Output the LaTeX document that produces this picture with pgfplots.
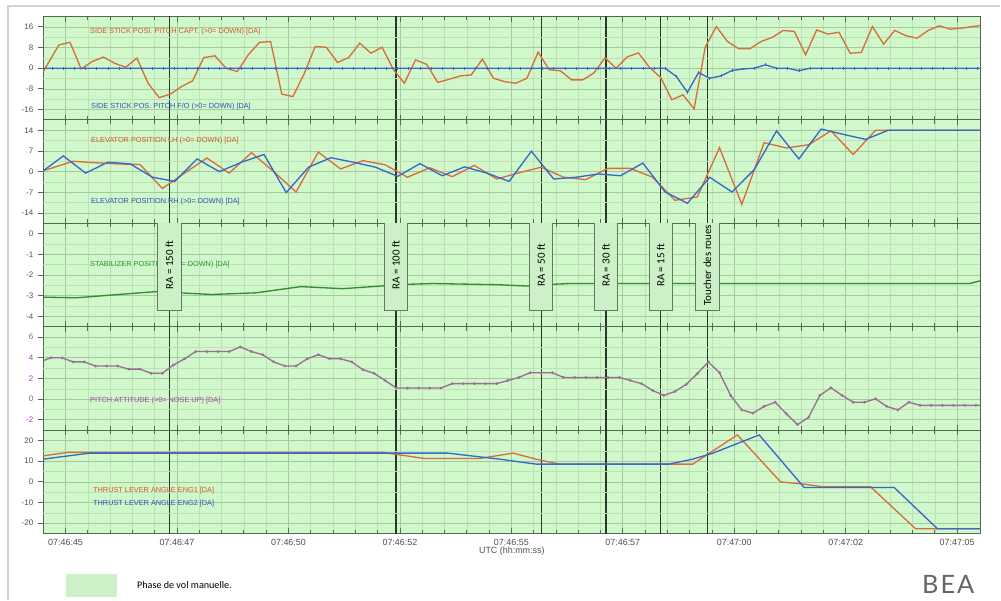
\documentclass[border=0pt]{standalone}
\usepackage{pgfplots}
\pgfplotsset{compat=1.18}
\usepackage{fontspec}
\setmainfont{Liberation Sans}
\newfontfamily\myr{Carlito}
\newfontfamily\beafont[LetterSpace=8]{Lato}

\definecolor{bgg}{RGB}{208,248,202}
\definecolor{gmaj}{RGB}{165,200,160}
\definecolor{gmin}{RGB}{188,225,183}
\definecolor{axc}{RGB}{85,105,85}
\definecolor{evc}{RGB}{45,55,45}
\definecolor{orl}{RGB}{215,110,60}
\definecolor{bll}{RGB}{55,105,200}
\definecolor{grl}{RGB}{50,140,50}
\definecolor{pul}{RGB}{155,110,150}
\definecolor{put}{RGB}{175,60,175}
\definecolor{ort}{RGB}{215,85,40}
\definecolor{blt}{RGB}{50,80,190}
\definecolor{grt}{RGB}{50,150,50}
\definecolor{tickc}{RGB}{80,80,80}
\definecolor{boxc}{RGB}{205,240,200}
\definecolor{boxd}{RGB}{100,120,100}

\tikzset{lab/.style={anchor=west, font=\fontsize{5.5}{6}\selectfont, inner sep=0pt}}

\pgfplotsset{
  panel/.style={
    scale only axis, width=703.3pt, height=77.625pt,
    anchor=north west,
    xmin=-0.5, xmax=20.52,
    axis background/.style={fill=bgg},
    xtick={0,2.5,...,20}, minor x tick num=4, xticklabels={},
    xtick align=inside, xtick pos=both,
    ytick align=outside, ytick pos=left,
    major tick length=4pt, minor tick length=3pt,
    grid=both,
    major grid style={draw=gmaj, line width=0.5pt},
    minor grid style={draw=gmin, line width=0.4pt},
    axis line style={draw=axc, line width=0.8pt},
    tick style={draw=axc, line width=0.6pt},
    yticklabel style={font=\fontsize{6}{7}\selectfont, text=tickc},
    /pgf/number format/assume math mode=true,
    extra x ticks={2.33,7.41,10.67,12.12,13.35,14.40},
    extra x tick labels={},
    extra x tick style={grid=major, major grid style={draw=evc, line width=1pt}, tick style={draw=none}},
    extra y tick labels={},
    extra y tick style={grid=major, major grid style={draw=gmin, line width=0.4pt}, tick style={draw=none}},
  },
}

\begin{document}
\begin{tikzpicture}
\path[fill=white] (0,0) rectangle (750.75pt,-450pt);
\draw[gray!35, line width=1.2pt] (6pt,-450pt) -- (6pt,-4.3pt) -- (750.75pt,-4.3pt);

% panel 1 : side sticks
\begin{axis}[panel, at={(32.5pt,-12.375pt)},
  ymin=-20, ymax=20, ytick={-16,-8,0,8,16}, extra y ticks={-12,-4,4,12}]
\addplot[orl, line width=1pt] coordinates {
(-0.5,-1.3) (-0.15,9) (0.1,10) (0.35,-0.3) (0.6,2.6) (0.85,4.3) (1.1,1.9) (1.35,0.4)
(1.6,3.9) (1.85,-5.8) (2.1,-11.4) (2.35,-10) (2.6,-7.1) (2.85,-4.9) (3.1,4.1) (3.35,4.8)
(3.6,0) (3.85,-1.3) (4.1,5.2) (4.35,10) (4.6,10.3) (4.85,-10) (5.1,-11) (5.35,-2.2)
(5.6,8.4) (5.85,8.1) (6.1,2.2) (6.35,4.1) (6.6,9.7) (6.85,5.8) (7.1,8.1) (7.35,-0.4)
(7.6,-5.8) (7.85,3.2) (8.1,1.5) (8.35,-5.5) (8.6,-4.3) (8.85,-3) (9.1,-2.6) (9.35,3.5)
(9.6,-3.9) (9.85,-5.2) (10.1,-5.8) (10.35,-3.9) (10.6,6.2) (10.85,-0.6) (11.1,-1) (11.35,-4.5)
(11.6,-4.5) (11.85,-1.9) (12.1,4.0) (12.35,0) (12.6,4.4) (12.85,5.9) (13.1,0.3) (13.35,-3.6)
(13.6,-12.2) (13.85,-10.3) (14.1,-15.7) (14.35,8.2) (14.6,16.1) (14.85,10.3) (15.1,7.5) (15.35,7.5)
(15.6,10.3) (15.85,11.9) (16.1,14.6) (16.35,14.2) (16.6,5.2) (16.85,14.8) (17.1,13.2) (17.35,13.9)
(17.6,5.8) (17.85,6.1) (18.1,16.1) (18.35,9.3) (18.6,14.6) (18.85,12.6) (19.1,11.6) (19.35,14.6)
(19.6,16.4) (19.85,15.1) (20.1,15.5) (20.35,16.1) (20.52,16.5)};
\addplot[bll, line width=1pt, mark=|, mark size=1.1pt, mark options={line width=0.5pt}] coordinates {
(-0.55,0) (-0.3,0) (-0.05,0) (0.2,0) (0.45,0) (0.7,0) (0.95,0) (1.2,0) (1.45,0) (1.7,0)
(1.95,0) (2.2,0) (2.45,0) (2.7,0) (2.95,0) (3.2,0) (3.45,0) (3.7,0) (3.95,0) (4.2,0)
(4.45,0) (4.7,0) (4.95,0) (5.2,0) (5.45,0) (5.7,0) (5.95,0) (6.2,0) (6.45,0) (6.7,0)
(6.95,0) (7.2,0) (7.45,0) (7.7,0) (7.95,0) (8.2,0) (8.45,0) (8.7,0) (8.95,0) (9.2,0)
(9.45,0) (9.7,0) (9.95,0) (10.2,0) (10.45,0) (10.7,0) (10.95,0) (11.2,0) (11.45,0) (11.7,0)
(11.95,0) (12.2,0) (12.45,0) (12.7,0) (12.95,0) (13.2,0) (13.45,0) (13.7,-3.2) (13.95,-9.3) (14.2,-1.7)
(14.45,-3.9) (14.7,-3.0) (14.95,-0.9) (15.2,-0.3) (15.45,0) (15.7,1.3) (15.95,0) (16.2,0) (16.45,-1.0) (16.7,0)
(16.95,0) (17.2,0) (17.45,0) (17.7,0) (17.95,0) (18.2,0) (18.45,0) (18.7,0) (18.95,0) (19.2,0)
(19.45,0) (19.7,0) (19.95,0) (20.2,0) (20.45,0) (20.7,0)};
\node[lab, text=ort] at (rel axis cs:0.0498,0.850) {SIDE STICK POSI. PITCH CAPT. (>0= DOWN) [DA]};
\node[lab, text=blt] at (rel axis cs:0.0508,0.126) {SIDE STICK POS. PITCH F/O (>0= DOWN) [DA]};
\end{axis}

% panel 2 : elevators
\begin{axis}[panel, at={(32.5pt,-90pt)},
  ymin=-17.5, ymax=17.5, ytick={-14,-7,0,7,14}, extra y ticks={-10.5,-3.5,3.5,10.5}]
\addplot[orl, line width=1pt] coordinates {
(-0.5,0.3) (0.17,3.5) (0.67,3.0) (1.17,2.6) (1.67,2.4) (2.17,-5.7) (2.67,-0.5) (3.17,4.6)
(3.67,-0.5) (4.17,6.4) (4.67,0) (5.17,-6.9) (5.67,6.6) (6.17,0.9) (6.67,3.7) (7.17,2.3)
(7.67,-1.9) (8.17,1.3) (8.67,-1.7) (9.17,2.1) (9.67,-2.5) (10.17,-0.4) (10.67,1.5) (11.17,-1.9)
(11.67,-2.7) (12.17,1.1) (12.67,1.1) (13.17,-1.9) (13.67,-9.7) (14.17,-8.6) (14.67,8.1) (15.17,-11.1)
(15.67,9.8) (16.17,8.0) (16.67,9.1) (17.17,13.8) (17.67,5.8) (18.17,14.0) (18.67,14.0) (19.17,14.0)
(19.67,14.0) (20.17,14.0) (20.67,14.0)};
\addplot[bll, line width=1pt] coordinates {
(-0.5,0.3) (-0.05,5.3) (0.45,-0.5) (0.95,3.2) (1.45,2.6) (1.95,-1.9) (2.45,-3.3) (2.95,4.3)
(3.45,0) (3.95,3.2) (4.45,5.8) (4.95,-7.1) (5.45,1.5) (5.95,4.7) (6.45,3.2) (6.95,1.5)
(7.45,-1.6) (7.95,2.7) (8.45,-1.4) (8.95,1.6) (9.45,-0.5) (9.95,-3.3) (10.45,6.9) (10.95,-2.5)
(11.45,-1.9) (11.95,-0.8) (12.45,-1.4) (12.95,2.9) (13.45,-6.9) (13.95,-10.7) (14.45,-1.9) (14.95,-6.9)
(15.45,0.7) (15.95,13.8) (16.45,4.3) (16.95,14.4) (17.45,12.6) (17.95,10.9) (18.45,14.0) (18.95,14.0)
(19.45,14.0) (19.95,14.0) (20.45,14.0) (20.7,14.0)};
\node[lab, text=ort] at (rel axis cs:0.0508,0.797) {ELEVATOR POSITION LH (>0= DOWN) [DA]};
\node[lab, text=blt] at (rel axis cs:0.0508,0.208) {ELEVATOR POSITION RH (>0= DOWN) [DA]};
\end{axis}

% panel 3 : stabilizer
\begin{axis}[panel, at={(32.5pt,-167.625pt)},
  ymin=-4.5, ymax=0.5, ytick={-4,-3,-2,-1,0}, extra y ticks={-3.5,-2.5,-1.5,-0.5}]
\addplot[grl, line width=1pt] coordinates {
(-0.5,-3.07) (0.24,-3.1) (2.03,-2.8) (3.27,-2.94) (4.27,-2.86) (5.28,-2.56) (6.22,-2.66)
(7.08,-2.53) (7.64,-2.45) (8.24,-2.41) (9.73,-2.47) (10.33,-2.53) (10.92,-2.45) (11.3,-2.41)
(20.28,-2.41) (20.52,-2.28)};
\node[lab, text=grt] at (rel axis cs:0.0498,0.599) {STABILIZER POSITION (>0= DOWN) [DA]};
\foreach \t/\s in {2.33/{RA = 150 ft}, 7.41/{RA = 100 ft}, 10.67/{RA = 50 ft}, 12.12/{RA = 30 ft}, 13.35/{RA = 15 ft}, 14.40/{Toucher des roues}}{
  \edef\temp{\noexpand\node[rotate=90, minimum width=68pt, minimum height=17.5pt, inner sep=0pt,
    fill=boxc, draw=boxd, line width=0.6pt, font=\noexpand\myr\noexpand\fontsize{8.2}{9}\noexpand\selectfont]
    at (axis cs:\t,-1.53) {\s};}
  \temp
}
\end{axis}

% panel 4 : pitch attitude
\begin{axis}[panel, at={(32.5pt,-245.25pt)},
  ymin=-3, ymax=7, ytick={-2,0,2,4,6}, extra y ticks={-1,1,3,5},
  yticklabel style={text=put}]
\addplot[pul, line width=1pt, mark=*, mark size=0.45pt] coordinates {
(-0.58,3.6) (-0.33,4.0) (-0.08,4.0) (0.17,3.6) (0.42,3.6) (0.67,3.2) (0.92,3.2) (1.17,3.2)
(1.42,2.9) (1.67,2.9) (1.92,2.5) (2.17,2.5) (2.42,3.3) (2.67,3.9) (2.92,4.6) (3.17,4.6)
(3.42,4.6) (3.67,4.6) (3.92,5.05) (4.17,4.6) (4.42,4.3) (4.67,3.6) (4.92,3.2) (5.17,3.2)
(5.42,3.9) (5.67,4.3) (5.92,3.9) (6.17,3.9) (6.42,3.6) (6.67,2.85) (6.92,2.5) (7.17,1.8)
(7.42,1.07) (7.67,1.07) (7.92,1.07) (8.17,1.07) (8.42,1.07) (8.67,1.5) (8.92,1.5) (9.17,1.5)
(9.42,1.5) (9.67,1.5) (9.92,1.8) (10.17,2.1) (10.42,2.55) (10.67,2.55) (10.92,2.55) (11.17,2.1)
(11.42,2.1) (11.67,2.1) (11.92,2.1) (12.17,2.1) (12.42,2.1) (12.67,1.8) (12.92,1.5) (13.17,0.84)
(13.42,0.36) (13.67,0.74) (13.92,1.42) (14.17,2.46) (14.42,3.6) (14.67,2.55) (14.92,0.36) (15.17,-1.04)
(15.42,-1.36) (15.67,-0.7) (15.92,-0.3) (16.17,-1.42) (16.42,-2.46) (16.67,-1.75) (16.92,0.36) (17.17,1.1)
(17.42,0.36) (17.67,-0.3) (17.92,-0.3) (18.17,0.03) (18.42,-0.7) (18.67,-1.04) (18.92,-0.3) (19.17,-0.6)
(19.42,-0.6) (19.67,-0.6) (19.92,-0.6) (20.17,-0.6) (20.42,-0.6) (20.67,-0.6)};
\node[lab, text=put] at (rel axis cs:0.0498,0.285) {PITCH ATTITUDE (>0= NOSE UP) [DA]};
\end{axis}

% panel 5 : thrust levers
\begin{axis}[panel, at={(32.5pt,-322.875pt)},
  ymin=-25, ymax=25, ytick={-20,-10,0,10,20}, extra y ticks={-15,-5,5,15},
  xticklabels={07:46:45,07:46:47,07:46:50,07:46:52,07:46:55,07:46:57,07:47:00,07:47:02,07:47:05},
  xticklabel style={font=\fontsize{6.7}{8}\selectfont, text=tickc, anchor=center, yshift=-6.9pt},
  xlabel={UTC (hh:mm:ss)},
  xlabel style={font=\fontsize{6.7}{8}\selectfont, text=tickc, at={(rel axis cs:0.5,0)}, anchor=center, yshift=-13.5pt}]
\addplot[orl, line width=1pt] coordinates {
(-0.5,12.6) (0.05,14.25) (7.12,14.25) (8.05,11.3) (9.28,11.3) (10.04,13.9) (10.55,11)
(11.07,8.6) (14.07,8.6) (15.07,22.7) (16.04,0) (16.57,-1.1) (17.0,-2.4) (18.06,-2.4)
(19.07,-22.7) (20.52,-22.7)};
\addplot[bll, line width=1pt] coordinates {
(-0.5,11) (0.54,13.9) (8.57,13.9) (9.73,11) (10.55,8.6) (13.54,8.6) (14.07,11)
(14.51,13.8) (15.56,22.7) (16.57,-2.75) (18.59,-2.75) (19.56,-22.7) (20.52,-22.7)};
\node[lab, text=ort] at (rel axis cs:0.053,0.415) {THRUST LEVER ANGLE ENG1 [DA]};
\node[lab, text=blt] at (rel axis cs:0.053,0.290) {THRUST LEVER ANGLE ENG2 [DA]};
\end{axis}

\begin{scope}[x=0.75pt, y=-0.75pt]
\fill[boxc] (66,574) rectangle (117,597);
\node[anchor=west, inner sep=0pt, font=\myr\fontsize{7.6}{9}\selectfont] at (137,585.5) {Phase de vol manuelle.};
\node[anchor=center, inner sep=0pt, text=gray!80!black, font=\beafont\fontsize{19}{20}\selectfont] at (949,585) {BEA};
\end{scope}
\end{tikzpicture}
\end{document}
